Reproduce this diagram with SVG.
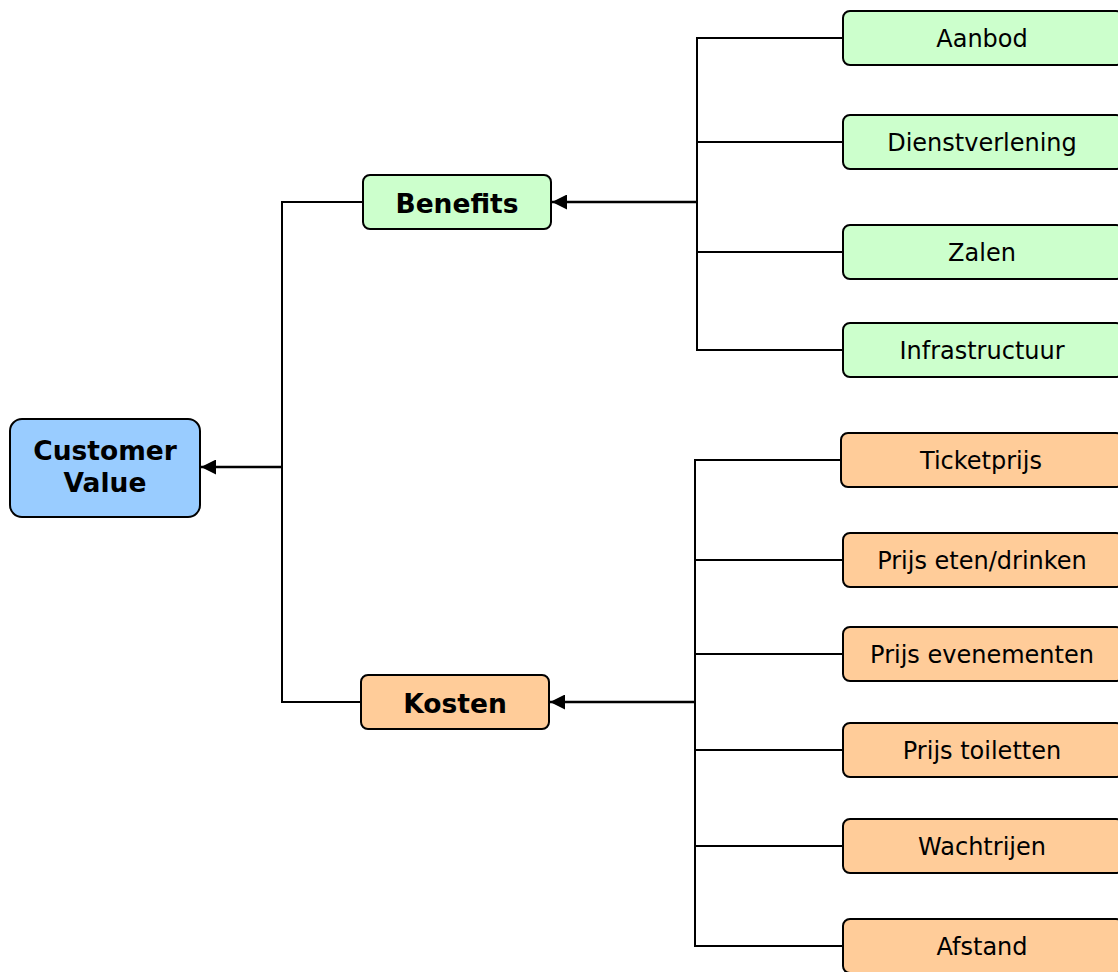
<svg xmlns="http://www.w3.org/2000/svg" width="1118" height="972" viewBox="0 0 1118 972">
  <style>
    .box { stroke: #000; stroke-width: 2; }
    .root { fill: #99ccff; }
    .ben { fill: #ccffcc; }
    .kos { fill: #ffcc99; }
    .lbl { font-family: "DejaVu Sans", Verdana, sans-serif; font-size: 24px; fill: #000; text-anchor: middle; }
    .hdr { font-family: "DejaVu Sans", Verdana, sans-serif; font-size: 26.5px; font-weight: bold; fill: #000; text-anchor: middle; }
    .wire { fill: none; stroke: #000; stroke-width: 2; }
    .feed { fill: none; stroke: #000; stroke-width: 2.6; }
  </style>
  <defs>
    <marker id="head" viewBox="0 0 15 15" refX="15" refY="7.5" markerWidth="15" markerHeight="15" markerUnits="userSpaceOnUse" orient="auto">
      <path d="M0,0 L15,7.5 L0,15 Z" fill="#000"/>
    </marker>
  </defs>

  <g id="connectors">
    <!-- root bus -->
    <path class="wire" d="M363,202 H282 V702 H361"/>
    <path class="feed" d="M282,467 H201" marker-end="url(#head)"/>
    <!-- benefits bus -->
    <path class="wire" d="M843,38 H697 V350 H843"/>
    <path class="wire" d="M697,142 H843 M697,252 H843"/>
    <path class="feed" d="M697,202 H552" marker-end="url(#head)"/>
    <!-- kosten bus -->
    <path class="wire" d="M841,460 H695 V946 H843"/>
    <path class="wire" d="M695,560 H843 M695,654 H843 M695,750 H843 M695,846 H843"/>
    <path class="feed" d="M695,702 H550" marker-end="url(#head)"/>
  </g>

  <g id="customer-value">
    <rect class="box root" x="10" y="419" width="190" height="98" rx="12"/>
    <text class="hdr" x="105" y="460">Customer</text>
    <text class="hdr" x="105" y="492">Value</text>
  </g>

  <g id="benefits">
    <rect class="box ben" x="363" y="175" width="188" height="54" rx="7"/>
    <text class="hdr" x="457" y="213">Benefits</text>
  </g>
  <g id="kosten">
    <rect class="box kos" x="361" y="675" width="188" height="54" rx="7"/>
    <text class="hdr" x="455" y="713">Kosten</text>
  </g>

  <g id="aanbod">
    <rect class="box ben" x="843" y="11" width="280" height="54" rx="7"/>
    <text class="lbl" x="982" y="47">Aanbod</text>
  </g>
  <g id="dienstverlening">
    <rect class="box ben" x="843" y="115" width="280" height="54" rx="7"/>
    <text class="lbl" x="982" y="151">Dienstverlening</text>
  </g>
  <g id="zalen">
    <rect class="box ben" x="843" y="225" width="280" height="54" rx="7"/>
    <text class="lbl" x="982" y="261">Zalen</text>
  </g>
  <g id="infrastructuur">
    <rect class="box ben" x="843" y="323" width="280" height="54" rx="7"/>
    <text class="lbl" x="982" y="359">Infrastructuur</text>
  </g>

  <g id="ticketprijs">
    <rect class="box kos" x="841" y="433" width="282" height="54" rx="7"/>
    <text class="lbl" x="981" y="469">Ticketprijs</text>
  </g>
  <g id="prijs-eten-drinken">
    <rect class="box kos" x="843" y="533" width="280" height="54" rx="7"/>
    <text class="lbl" x="982" y="569">Prijs eten/drinken</text>
  </g>
  <g id="prijs-evenementen">
    <rect class="box kos" x="843" y="627" width="280" height="54" rx="7"/>
    <text class="lbl" x="982" y="663">Prijs evenementen</text>
  </g>
  <g id="prijs-toiletten">
    <rect class="box kos" x="843" y="723" width="280" height="54" rx="7"/>
    <text class="lbl" x="982" y="759">Prijs toiletten</text>
  </g>
  <g id="wachtrijen">
    <rect class="box kos" x="843" y="819" width="280" height="54" rx="7"/>
    <text class="lbl" x="982" y="855">Wachtrijen</text>
  </g>
  <g id="afstand">
    <rect class="box kos" x="843" y="919" width="280" height="54" rx="7"/>
    <text class="lbl" x="982" y="955">Afstand</text>
  </g>
</svg>
